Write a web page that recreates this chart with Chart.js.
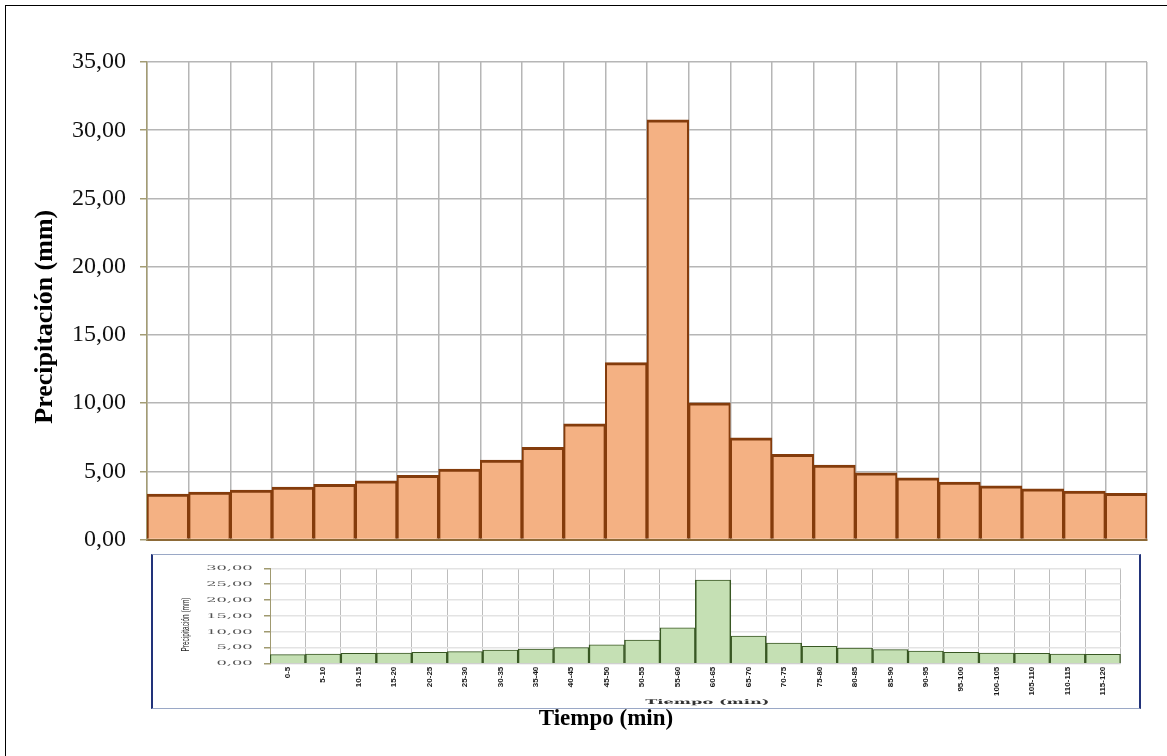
<!DOCTYPE html>
<html>
<head>
<meta charset="utf-8">
<title>Hietograma de diseño</title>
<script src="https://cdn.jsdelivr.net/npm/chart.js@4.4.1/dist/chart.umd.min.js"></script>
<style>
  html, body { margin: 0; padding: 0; background: #fff; overflow: hidden; }
  #wrap { position: relative; width: 1167px; height: 756px; overflow: hidden; background: #fff; }
  #main { position: absolute; left: 0; top: 0; }
  #frame { position: absolute; left: 5px; top: 5px; width: 1300px; height: 900px;
           border-top: 1.5px solid #000; border-left: 1.5px solid #000; pointer-events: none; }
  #insetBox { position: absolute; left: 151px; top: 554px; width: 990px; height: 155px; box-sizing: border-box;
              border-left: 2px solid #22337a; border-right: 2px solid #22337a;
              border-top: 1px solid #9aa8c6; border-bottom: 1px solid #9aa8c6; background: #fff; }
  #inset { position: absolute; left: 0; top: 0; }
</style>
</head>
<body>
<div id="wrap">
  <canvas id="main" width="1167" height="756"></canvas>
  <div id="frame"></div>
  <div id="insetBox"><canvas id="inset" width="986" height="153"></canvas></div>
</div>
<script>
// Intervalos de tiempo (min)
const categories = ['0-5', '5-10', '10-15', '15-20', '20-25', '25-30', '30-35', '35-40',
                    '40-45', '45-50', '50-55', '55-60', '60-65', '65-70', '70-75', '75-80',
                    '80-85', '85-90', '90-95', '95-100', '100-105', '105-110', '110-115', '115-120'];

// Precipitación por intervalo (mm) - gráfico principal
const precipitacion = [3.33, 3.48, 3.62, 3.84, 4.04, 4.30, 4.70, 5.16, 5.82, 6.75, 8.48, 12.97,
                       30.76, 10.02, 7.45, 6.24, 5.45, 4.89, 4.52, 4.21, 3.94, 3.72, 3.55, 3.38];

// Precipitación por intervalo (mm) - gráfico insertado
const precipitacionInset = [2.83, 3.05, 3.26, 3.36, 3.60, 3.78, 4.30, 4.62, 5.03, 5.97, 7.45, 11.30,
                            26.30, 8.70, 6.50, 5.47, 4.94, 4.41, 3.99, 3.57, 3.36, 3.26, 3.05, 2.94];

// Ejes
const mainYTicks = { min: 0, max: 35, step: 5 };
const insetYTicks = { min: 0, max: 30, step: 5 };
const yTitle = 'Precipitación (mm)';
const xTitle = 'Tiempo (min)';

const fmt = v => Number(v).toFixed(2).replace('.', ',');
const SERIF = '"Liberation Serif", "Times New Roman", serif';
const SANS = '"Liberation Sans", Arial, sans-serif';

// Títulos de ejes del gráfico principal
const mainTitles = {
  id: 'mainTitles',
  afterDraw(chart) {
    const ctx = chart.ctx;
    const area = chart.chartArea;
    ctx.save();
    ctx.fillStyle = '#000';
    ctx.font = 'bold 26px ' + SERIF;
    ctx.textAlign = 'center';
    ctx.textBaseline = 'alphabetic';
    ctx.translate(52, (area.top + area.bottom) / 2 + 16);
    ctx.rotate(-Math.PI / 2);
    ctx.fillText(yTitle, 0, 0);
    ctx.restore();

    ctx.save();
    ctx.fillStyle = '#000';
    ctx.font = 'bold 23px ' + SERIF;
    ctx.textAlign = 'center';
    ctx.textBaseline = 'alphabetic';
    ctx.fillText(xTitle, (area.left + area.right) / 2 - 41, 725);
    ctx.restore();
  }
};

new Chart(document.getElementById('main'), {
  type: 'bar',
  data: {
    labels: categories,
    datasets: [{
      data: precipitacion,
      backgroundColor: '#F4B183',
      borderColor: '#843C0C',
      borderWidth: { top: 3, left: 2, right: 2, bottom: 0 },
      borderSkipped: 'start',
      barPercentage: 1,
      categoryPercentage: 1
    }]
  },
  options: {
    responsive: false,
    animation: false,
    devicePixelRatio: 1,
    layout: { padding: { left: 25, top: 62, right: 20, bottom: 216.5 } },
    plugins: { legend: { display: false }, tooltip: { enabled: false }, title: { display: false } },
    scales: {
      x: {
        type: 'category',
        offset: true,
        grid: { offset: true, color: '#b6b6b6', lineWidth: 1.5, drawTicks: false },
        border: { color: '#8d6a37', width: 2 },
        ticks: { display: false },
        afterFit: s => { s.height = 0; }
      },
      y: {
        min: mainYTicks.min,
        max: mainYTicks.max,
        ticks: {
          stepSize: mainYTicks.step,
          callback: v => fmt(v),
          font: { family: SERIF, size: 24 },
          color: '#111',
          padding: 14
        },
        grid: { color: '#b6b6b6', lineWidth: 1.5, tickColor: '#a39c74', tickLength: 7 },
        border: { color: '#a39c74', width: 1.5 },
        afterFit: s => { s.width = 122; }
      }
    }
  },
  plugins: [mainTitles]
});

// Textos del gráfico insertado: etiquetas anchas del eje Y, títulos de ejes
const insetText = {
  id: 'insetText',
  afterDraw(chart) {
    const ctx = chart.ctx;
    const y = chart.scales.y;
    const area = chart.chartArea;
    const stretch = 2.5;
    ctx.save();
    ctx.fillStyle = '#555';
    ctx.font = '6.5px "DejaVu Serif", serif';
    ctx.textAlign = 'right';
    ctx.textBaseline = 'middle';
    y.ticks.forEach(t => {
      const py = y.getPixelForValue(t.value);
      ctx.save();
      ctx.translate(area.left - 17.3, py);
      ctx.scale(stretch, 1);
      ctx.fillText(fmt(t.value), 0, 0);
      ctx.restore();
    });
    ctx.restore();

    ctx.save();
    ctx.fillStyle = '#333';
    ctx.font = 'bold 6.5px "DejaVu Serif", serif';
    ctx.textAlign = 'center';
    ctx.textBaseline = 'middle';
    ctx.translate((area.left + area.right) / 2 + 12, 147);
    ctx.scale(stretch, 1);
    ctx.fillText(xTitle, 0, 0);
    ctx.restore();

    // Título vertical estrecho
    ctx.save();
    ctx.fillStyle = '#222';
    ctx.font = '9px ' + SANS;
    ctx.textAlign = 'center';
    ctx.textBaseline = 'middle';
    ctx.translate(32.5, (area.top + area.bottom) / 2 + 8.5);
    ctx.rotate(-Math.PI / 2);
    ctx.scale(0.72, 1.25);
    ctx.fillText(yTitle, 0, 0);
    ctx.restore();
  }
};

new Chart(document.getElementById('inset'), {
  type: 'bar',
  data: {
    labels: categories,
    datasets: [{
      data: precipitacionInset,
      backgroundColor: '#C5E0B4',
      borderColor: '#385723',
      borderWidth: { top: 1, left: 1.5, right: 1.5, bottom: 0 },
      borderSkipped: 'start',
      barPercentage: 1,
      categoryPercentage: 1
    }]
  },
  options: {
    responsive: false,
    animation: false,
    devicePixelRatio: 1,
    layout: { padding: { left: 22, top: 13.3, right: 18.3, bottom: 4.3 } },
    plugins: { legend: { display: false }, tooltip: { enabled: false }, title: { display: false } },
    scales: {
      x: {
        type: 'category',
        offset: true,
        grid: { offset: true, color: '#bdbdbd', lineWidth: 1, drawTicks: false },
        border: { color: '#cfcfcf', width: 1 },
        ticks: {
          font: { family: SANS, size: 8, weight: 'bold' },
          color: '#1a1a1a',
          minRotation: 90,
          maxRotation: 90,
          autoSkip: false,
          padding: 3
        },
        afterFit: s => { s.height = 40; }
      },
      y: {
        min: insetYTicks.min,
        max: insetYTicks.max,
        ticks: { stepSize: insetYTicks.step, display: false },
        grid: { color: '#e3e3e3', lineWidth: 1.5, tickColor: '#a09a70', tickLength: 6 },
        border: { color: '#a09a70', width: 1 },
        afterFit: s => { s.width = 117 - 22; }
      }
    }
  },
  plugins: [insetText]
});
</script>
</body>
</html>
